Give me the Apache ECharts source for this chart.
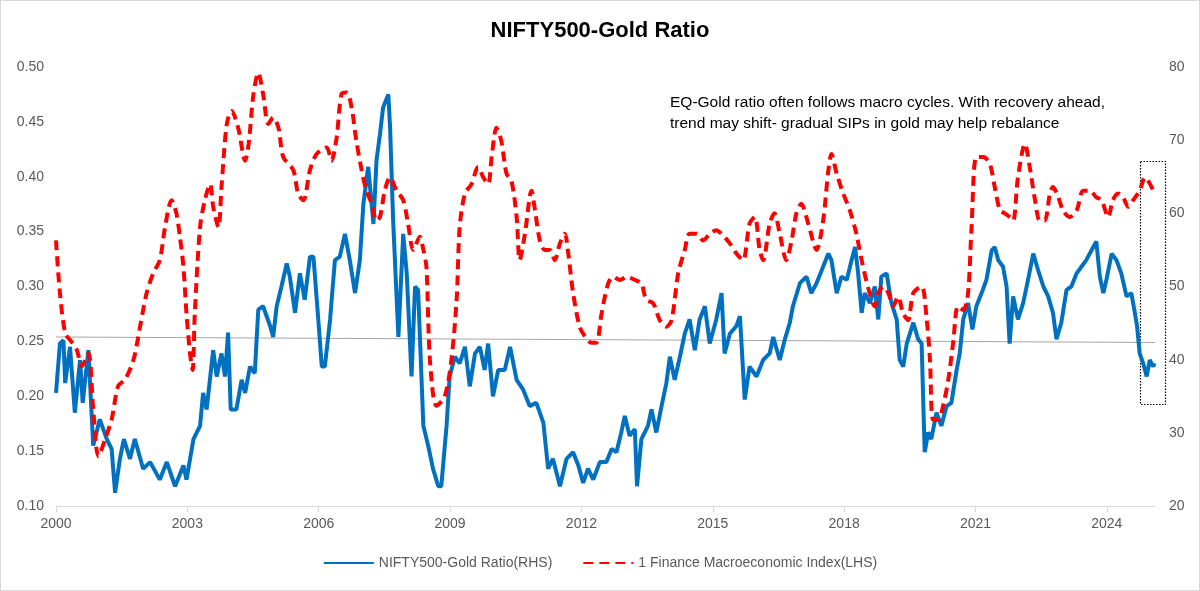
<!DOCTYPE html>
<html>
<head>
<meta charset="utf-8">
<script src="https://cdn.jsdelivr.net/npm/echarts@6/dist/echarts.min.js"></script>
<style>
html, body { margin: 0; padding: 0; background: #fff; }
#chart { width: 1198px; height: 589px; border: 1px solid #d9d9d9; }
</style>
</head>
<body>
<div id="chart"></div>
<script>
// NIFTY500-Gold ratio as [year, ratio]
let ratioYears = [2000.00,2000.09,2000.17,2000.21,2000.32,2000.43,2000.55,2000.61,2000.74,2000.85,2001.00,2001.16,2001.27,2001.35,2001.46,2001.55,2001.69,2001.80,2001.99,2002.15,2002.37,2002.53,2002.72,2002.91,2002.98,2003.14,2003.29,2003.36,2003.44,2003.59,2003.67,2003.78,2003.86,2003.93,2003.99,2004.12,2004.24,2004.32,2004.43,2004.54,2004.62,2004.73,2004.89,2004.96,2005.04,2005.15,2005.27,2005.34,2005.46,2005.57,2005.68,2005.80,2005.88,2005.99,2006.07,2006.14,2006.26,2006.37,2006.48,2006.60,2006.71,2006.83,2006.94,2007.02,2007.13,2007.25,2007.32,2007.40,2007.47,2007.59,2007.63,2007.70,2007.82,2007.93,2008.01,2008.12,2008.20,2008.27,2008.39,2008.50,2008.61,2008.73,
    2008.80,2008.92,2008.99,2009.11,2009.22,2009.34,2009.45,2009.57,2009.68,2009.79,2009.87,2009.98,2010.10,2010.25,2010.37,2010.52,2010.67,2010.82,2010.97,2011.13,2011.24,2011.35,2011.51,2011.66,2011.81,2011.93,2012.04,2012.15,2012.27,2012.42,2012.57,2012.69,2012.80,2012.91,2012.99,2013.10,2013.22,2013.27,2013.37,2013.52,2013.60,2013.71,2013.83,2013.94,2014.02,2014.13,2014.25,2014.36,2014.47,2014.59,2014.70,2014.82,2014.93,2015.08,2015.20,2015.27,2015.39,2015.54,2015.62,2015.73,2015.84,2016.00,2016.15,2016.30,2016.38,2016.53,2016.64,2016.76,2016.83,2016.99,2017.14,2017.25,2017.37,
    2017.52,2017.64,2017.71,2017.83,2017.94,2018.06,2018.17,2018.25,2018.32,2018.40,2018.47,2018.59,2018.70,2018.78,2018.85,2018.97,2019.08,2019.20,2019.27,2019.35,2019.43,2019.58,2019.69,2019.77,2019.84,2019.92,2019.99,2020.11,2020.22,2020.34,2020.45,2020.57,2020.64,2020.72,2020.83,2020.93,2021.02,2021.14,2021.25,2021.37,2021.44,2021.52,2021.63,2021.71,2021.78,2021.86,2021.97,2022.09,2022.20,2022.32,2022.43,2022.55,2022.66,2022.77,2022.85,2022.96,2023.08,2023.19,2023.31,2023.42,2023.53,2023.65,2023.76,2023.84,2023.92,2023.99,2024.11,2024.22,2024.33,2024.45,2024.56,2024.64,2024.69,2024.75,2024.83,2024.91,2024.98,2025.06,2025.09];
let ratioValues = [0.203,0.248,0.251,0.212,0.245,0.185,0.233,0.194,0.242,0.155,0.179,0.161,0.152,0.112,0.143,0.161,0.143,0.161,0.134,0.140,0.124,0.140,0.118,0.137,0.124,0.161,0.173,0.203,0.188,0.242,0.218,0.239,0.218,0.258,0.188,0.188,0.215,0.203,0.227,0.221,0.279,0.282,0.264,0.254,0.282,0.300,0.321,0.309,0.276,0.312,0.288,0.327,0.327,0.270,0.227,0.227,0.270,0.324,0.327,0.348,0.324,0.294,0.324,0.375,0.409,0.357,0.415,0.439,0.463,0.475,0.445,0.360,0.254,0.348,0.312,0.218,0.300,0.297,0.173,0.155,0.134,0.118,
    0.118,0.173,0.218,0.236,0.230,0.245,0.209,0.239,0.245,0.224,0.248,0.200,0.224,0.224,0.245,0.215,0.206,0.191,0.194,0.176,0.134,0.143,0.118,0.143,0.149,0.137,0.121,0.134,0.124,0.140,0.140,0.152,0.149,0.167,0.182,0.164,0.170,0.118,0.161,0.173,0.188,0.167,0.191,0.212,0.236,0.215,0.236,0.257,0.270,0.242,0.270,0.282,0.248,0.270,0.294,0.239,0.257,0.264,0.273,0.197,0.227,0.218,0.233,0.239,0.254,0.233,0.251,0.267,0.282,0.303,0.309,0.294,0.303,
    0.318,0.330,0.324,0.294,0.309,0.306,0.324,0.336,0.312,0.276,0.294,0.285,0.300,0.270,0.309,0.312,0.285,0.270,0.233,0.227,0.248,0.267,0.252,0.248,0.149,0.167,0.161,0.185,0.173,0.191,0.194,0.224,0.239,0.270,0.285,0.261,0.282,0.294,0.306,0.333,0.336,0.324,0.318,0.300,0.248,0.291,0.270,0.285,0.306,0.330,0.315,0.300,0.291,0.276,0.252,0.267,0.297,0.300,0.312,0.318,0.324,0.333,0.341,0.309,0.294,0.306,0.330,0.324,0.312,0.291,0.294,0.276,0.264,0.239,0.230,0.218,0.233,0.227,0.230];

// 1 Finance Macroeconomic Index, [year, index]
let macroYears = [2000.00,2000.09,2000.21,2000.32,2000.47,2000.59,2000.74,2000.85,2000.97,2001.12,2001.27,2001.42,2001.58,2001.77,2001.92,2002.07,2002.22,2002.37,2002.49,2002.64,2002.75,2002.83,2002.91,2002.98,2003.06,2003.12,2003.17,2003.29,2003.40,2003.52,2003.59,2003.71,2003.78,2003.90,2004.01,2004.16,2004.32,2004.40,2004.51,2004.62,2004.73,2004.85,2004.96,2005.08,2005.19,2005.42,2005.53,2005.65,2005.80,2005.95,2006.18,2006.29,2006.41,2006.52,2006.64,2006.75,2006.86,2006.98,2007.09,2007.21,2007.32,2007.40,2007.51,2007.63,2007.78,2007.93,2008.04,2008.16,2008.31,2008.39,2008.46,2008.54,2008.69,
    2008.88,2009.03,2009.15,2009.22,2009.34,2009.49,2009.64,2009.76,2009.87,2009.95,2010.06,2010.17,2010.29,2010.40,2010.52,2010.59,2010.71,2010.86,2010.94,2011.05,2011.16,2011.28,2011.39,2011.51,2011.62,2011.70,2011.81,2011.96,2012.08,2012.23,2012.34,2012.46,2012.61,2012.72,2012.88,2013.03,2013.22,2013.37,2013.48,2013.64,2013.79,2013.94,2014.06,2014.21,2014.36,2014.47,2014.63,2014.78,2014.93,2015.08,2015.20,2015.39,2015.54,2015.69,2015.84,2015.96,2016.07,2016.15,2016.30,2016.41,2016.53,2016.68,2016.80,2016.91,2017.02,2017.18,2017.37,
    2017.52,2017.64,2017.71,2017.83,2017.98,2018.13,2018.28,2018.40,2018.55,2018.70,2018.78,2018.89,2019.01,2019.12,2019.23,2019.35,2019.46,2019.58,2019.77,2019.88,2019.96,2020.03,2020.15,2020.26,2020.38,2020.49,2020.60,2020.72,2020.83,2020.91,2021.02,2021.18,2021.33,2021.44,2021.56,2021.67,2021.78,2021.86,2021.97,2022.13,2022.24,2022.36,2022.47,2022.58,2022.70,2022.77,2022.89,2023.00,2023.15,2023.31,2023.46,2023.61,2023.76,2023.88,2024.03,2024.14,2024.26,2024.37,2024.49,2024.60,2024.75,2024.87,2024.94,2025.06];
let macroValues = [56.3,49.1,43.6,42.7,41.4,39.1,40.9,33.2,26.8,29.1,31.8,36.4,37.3,40.0,44.5,49.1,51.8,53.6,58.1,61.8,60.0,56.8,52.7,46.3,40.9,38.6,46.3,58.1,61.8,64.0,60.9,58.1,63.6,72.2,74.0,71.7,67.2,69.5,76.3,79.2,76.3,72.2,73.1,71.7,67.7,65.9,62.7,61.8,65.9,68.1,69.0,67.2,70.4,76.3,76.5,74.5,69.9,65.9,63.1,61.3,59.0,59.5,63.1,64.9,63.1,61.8,58.6,55.0,56.8,55.0,52.7,40.0,33.7,
    35.0,40.0,48.2,58.1,62.7,64.0,66.3,64.9,64.0,67.7,71.7,69.9,65.4,64.5,59.5,53.6,57.2,63.1,60.4,56.3,55.0,55.0,53.6,55.9,57.2,54.5,49.1,44.5,43.2,42.3,42.3,46.3,50.4,51.3,50.9,51.3,50.9,50.4,48.2,47.7,45.4,44.5,45.4,51.8,55.0,57.2,57.2,56.3,57.2,57.7,57.2,55.9,54.5,53.6,58.6,59.5,55.0,53.6,58.6,60.0,57.2,53.6,56.3,60.0,61.3,58.6,55.0,
    59.0,65.9,68.1,65.4,62.7,60.4,57.2,53.6,49.8,47.3,49.1,50.0,49.1,47.3,48.6,46.3,45.4,49.1,50.0,45.9,40.0,31.8,31.8,33.7,37.3,42.3,47.3,46.8,49.1,58.1,67.7,67.7,66.7,63.6,60.4,60.0,59.5,59.0,64.9,69.5,66.3,61.8,59.0,59.0,62.7,63.6,62.2,60.4,59.5,60.4,63.1,63.1,62.2,61.8,59.5,61.8,62.7,62.2,60.9,61.8,63.1,64.9,64.5,63.1];

// long-run trend of the ratio
let trendYears = [2000, 2025.1];
let trendValues = [0.254, 0.249];

function pairs(xs, ys) {
    return xs.map((x, i) => [x, ys[i]]);
}

let chart = echarts.init(document.getElementById("chart"));
let axisText = { color: "#595959", fontSize: 14, fontFamily: "Liberation Sans" };
let option = {
    animation: false,
    textStyle: { fontFamily: "Liberation Sans" },
    title: {
        text: "NIFTY500-Gold Ratio",
        left: "center",
        top: 14,
        textStyle: { fontSize: 22, fontWeight: "bold", color: "#000", fontFamily: "Liberation Sans" }
    },
    grid: { left: 55, right: 44, top: 66, bottom: 84 },
    legend: {
        bottom: 15,
        itemWidth: 50,
        itemHeight: 12,
        itemGap: 30,
        itemStyle: { opacity: 0 },
        textStyle: { color: "#595959", fontSize: 14 },
        data: ["NIFTY500-Gold Ratio(RHS)", "1 Finance Macroeconomic Index(LHS)"]
    },
    xAxis: {
        type: "value",
        min: 2000,
        max: 2025.1,
        interval: 3,
        splitLine: { show: false },
        axisLine: { lineStyle: { color: "#d9d9d9" } },
        axisTick: { show: true, length: 6, lineStyle: { color: "#d9d9d9" } },
        axisLabel: Object.assign({ showMaxLabel: false, formatter: v => String(v), margin: 11 }, axisText)
    },
    yAxis: [
        {
            type: "value", min: 0.1, max: 0.5, interval: 0.05,
            splitLine: { show: false },
            axisLine: { show: false }, axisTick: { show: false },
            axisLabel: Object.assign({ formatter: v => v.toFixed(2), margin: 12 }, axisText)
        },
        {
            type: "value", min: 20, max: 80, interval: 10,
            splitLine: { show: false },
            axisLine: { show: false }, axisTick: { show: false },
            axisLabel: Object.assign({ margin: 14 }, axisText)
        }
    ],
    series: [
        {
            name: "trend",
            type: "line",
            data: pairs(trendYears, trendValues),
            symbol: "none",
            silent: true,
            lineStyle: { color: "#a6a6a6", width: 1 },
            z: 1
        },
        {
            name: "NIFTY500-Gold Ratio(RHS)",
            type: "line",
            data: pairs(ratioYears, ratioValues),
            symbol: "none",
            color: "#0070c0",
            lineStyle: { color: "#0070c0", width: 4 },
            z: 2
        },
        {
            name: "1 Finance Macroeconomic Index(LHS)",
            type: "line",
            yAxisIndex: 1,
            data: pairs(macroYears, macroValues),
            symbol: "none",
            smooth: 0.3,
            color: "#ff0000",
            lineStyle: { color: "#ff0000", width: 4, type: [10, 6] },
            z: 3
        }
    ],
    graphic: [
        {
            type: "text", left: 669, top: 91,
            style: {
                text: "EQ-Gold ratio often follows macro cycles. With recovery ahead,\ntrend may shift- gradual SIPs in gold may help rebalance",
                fill: "#000", fontSize: 15.5, lineHeight: 21, fontFamily: "Liberation Sans"
            }
        },
        {
            type: "rect", left: 1137, top: 158,
            shape: { width: 25, height: 243 },
            style: { fill: "none", stroke: "#000", lineWidth: 1.2, lineDash: [1.5, 1.5] }
        }
    ]
};
chart.setOption(option);
</script>
</body>
</html>
